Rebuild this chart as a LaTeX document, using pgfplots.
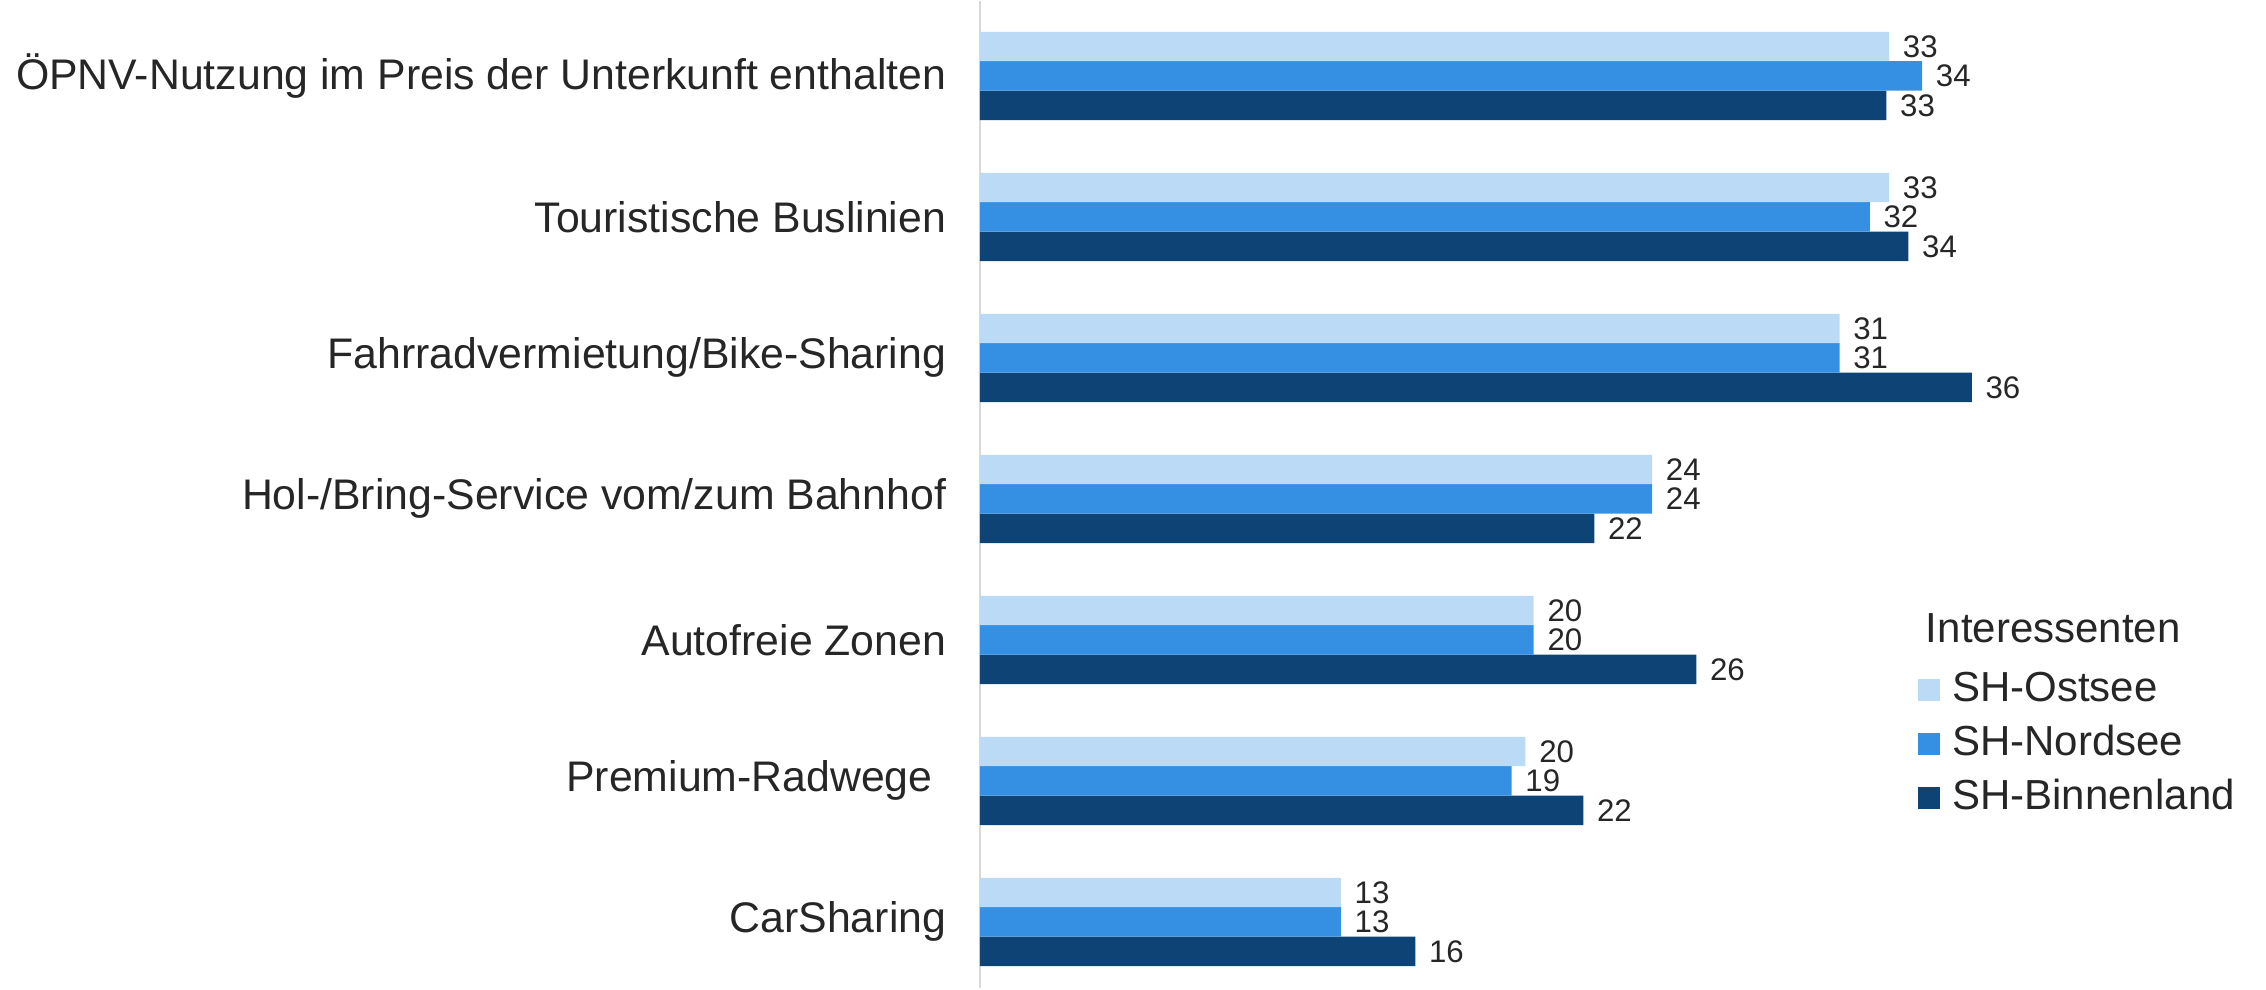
\documentclass[border=0pt]{standalone}
\usepackage{pgfplots}
\pgfplotsset{compat=1.18}
\usepackage{fontspec}
\setmainfont{Liberation Sans}
\definecolor{cOst}{RGB}{187,218,245}
\definecolor{cNord}{RGB}{53,144,228}
\definecolor{cBinn}{RGB}{14,68,117}
\definecolor{axgray}{RGB}{217,217,217}
\begin{document}
\begin{tikzpicture}
\begin{axis}[
  scale only axis,
  width=321.5pt, height=246.75pt,
  xbar=0pt, bar width=7.35pt,
  xmin=0, xmax=46.68,
  ymin=-0.53, ymax=6.47,
  y dir=reverse,
  hide x axis,
  axis y line*=left,
  y axis line style={draw=axgray, line width=0.6pt},
  ytick={0,1,2,3,4,5,6},
  yticklabels={ÖPNV-Nutzung im Preis der Unterkunft enthalten,Touristische Buslinien,Fahrradvermietung/Bike-Sharing,Hol-/Bring-Service vom/zum Bahnhof,Autofreie Zonen,Premium-Radwege\hspace*{3.4pt},CarSharing},
  major tick length=0pt,
  /pgf/number format/assume math mode=true,
  /pgf/number format/fixed, /pgf/number format/precision=0,
  yticklabel style={font=\fontsize{10.7}{12}\selectfont, text=black!85, inner sep=0pt, xshift=-8.25pt},
  nodes near coords,
  nodes near coords style={font=\fontsize{7.8}{9}\selectfont, text=black!85, anchor=west, inner sep=0pt, xshift=3.25pt},
  legend image code/.code={\fill[#1] (0pt,-2.75pt) rectangle (5.5pt,2.75pt);},
  legend style={draw=none, fill=none, at={(0.729,0.324)}, anchor=north west,
    font=\fontsize{10.5}{12}\selectfont, text=black!85, inner sep=0pt, row sep=3pt, column sep=3pt,
    nodes={inner sep=0pt, text height=8pt, text depth=2.5pt}},
  legend cell align=left,
  reverse legend,
]
\addplot[fill=cBinn, draw=none] coordinates {(32.9,0) (33.7,1) (36.0,2) (22.3,3) (26.0,4) (21.9,5) (15.8,6)};
\addplot[fill=cNord, draw=none] coordinates {(34.2,0) (32.3,1) (31.2,2) (24.4,3) (20.1,4) (19.3,5) (13.1,6)};
\addplot[fill=cOst, draw=none] coordinates {(33.0,0) (33.0,1) (31.2,2) (24.4,3) (20.1,4) (19.8,5) (13.1,6)};
\legend{SH-Binnenland,SH-Nordsee,SH-Ostsee}
\node[anchor=west, inner sep=0pt, font=\fontsize{10.5}{12}\selectfont, text=black!85] at (axis description cs:0.735,0.365) {Interessenten};
\end{axis}
\path (current axis.south west) ++(-245pt,0pt) rectangle (current axis.north east);
\end{tikzpicture}
\end{document}
